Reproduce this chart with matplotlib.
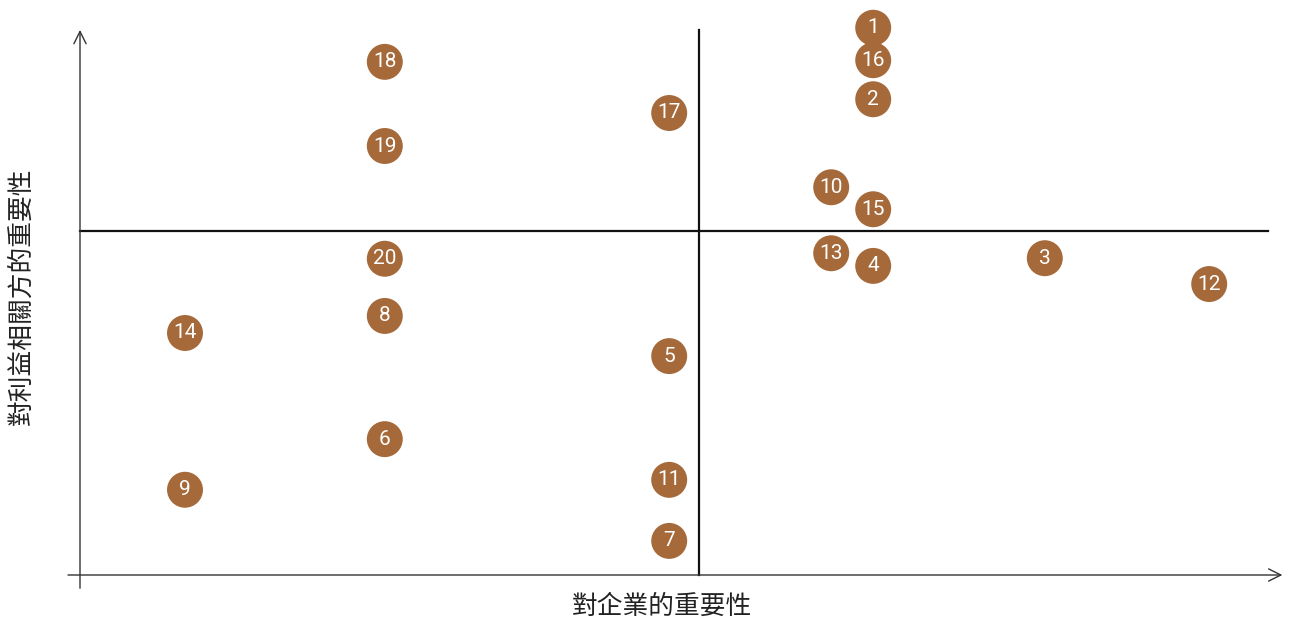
import numpy as np
import matplotlib
matplotlib.use('Agg')
import matplotlib.pyplot as plt

plt.rcParams['font.family'] = ['Noto Sans CJK TC', 'DejaVu Sans']

# issue numbers and positions (0-100 scale on both axes)
labels = ['1', '16', '2', '17', '18', '19', '10', '15', '13', '4',
          '3', '12', '20', '8', '14', '5', '6', '9', '11', '7']
company = [66.1, 66.1, 66.1, 49.1, 25.4, 25.4, 62.6, 66.1, 62.6, 66.1,
           80.4, 94.1, 25.4, 25.4, 8.75, 49.1, 25.4, 8.75, 49.1, 49.1]
stakeholder = [99.5, 93.6, 86.5, 84.0, 93.3, 78.0, 70.5, 66.5, 58.5, 56.2,
               57.6, 52.9, 57.5, 47.1, 44.0, 39.8, 24.7, 15.5, 17.3, 6.2]
x_mid = 51.6
y_mid = 62.5

fig = plt.figure(figsize=(13.01, 6.22), dpi=100)
ax = fig.add_axes([80/1301, 1-575/622, 1200/1301, 550/622])
ax.set_xlim(0, 100)
ax.set_ylim(0, 100)
ax.axis('off')

# axes with open arrow heads
ax.annotate('', xy=(100.2, 0), xytext=(-1, 0), annotation_clip=False,
            arrowprops=dict(arrowstyle='->', color='#333333', lw=1.0,
                            mutation_scale=22, shrinkA=0, shrinkB=0))
ax.annotate('', xy=(0, 99.1), xytext=(0, -2.4), annotation_clip=False,
            arrowprops=dict(arrowstyle='->', color='#333333', lw=1.0,
                            mutation_scale=22, shrinkA=0, shrinkB=0))

# quadrant lines
ax.plot([x_mid, x_mid], [0, 99.1], color='#111111', lw=1.6, clip_on=False)
ax.plot([0, 99], [y_mid, y_mid], color='#111111', lw=1.6, clip_on=False)

ax.scatter(company, stakeholder, s=670, color='#A5693A', zorder=3,
           clip_on=False, edgecolors='none')
for lab, x, y in zip(labels, company, stakeholder):
    ax.text(x, y, lab, color='white', fontsize=15, ha='center', va='center',
            family=['Roboto', 'DejaVu Sans'], zorder=4)

fig.text(662/1301, 1-607/622, '對企業的重要性', fontsize=18.5, ha='center',
         va='center', color='#222222')
fig.text(22/1301, 1-296/622, '對利益相關方的重要性', fontsize=18.5, ha='center',
         va='center', rotation=90, color='#222222')

fig.savefig('out.png', dpi=100)
